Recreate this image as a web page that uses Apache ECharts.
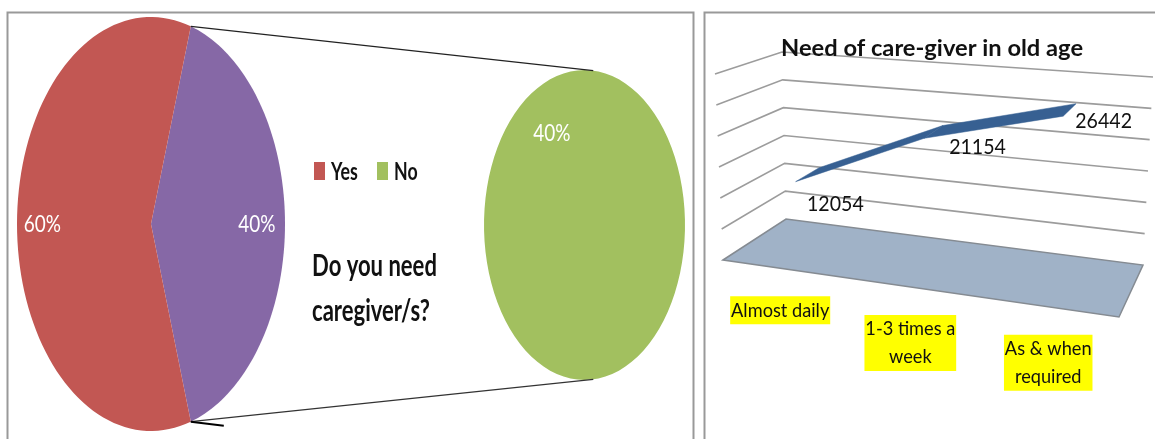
<!DOCTYPE html>
<html><head><meta charset="utf-8">
<style>html,body{margin:0;padding:0;background:#fff}#c{width:1155px;height:439px}</style>
<script src="https://cdn.jsdelivr.net/npm/echarts@6/dist/echarts.min.js"></script>
</head><body><div id="c"></div>
<script>
// ---- data ----
const pieNames = ['Yes', 'Other'];
const pieValues = [59.6, 40.4];
const breakoutName = 'No';
const breakoutValue = 40;
const lineCategories = [['Almost daily'], ['1-3 times a', 'week'], ['As & when', 'required']];
const lineValues = [12054, 21154, 26442];
const lineTicks = [5000, 10000, 15000, 20000, 25000, 30000];

// ---- layout ----
const FONT = 'Lato';
const leftPie = {left: 17, top: 17, width: 268, height: 414};
const rightPie = {left: 484, top: 70, width: 201, height: 310};
const backWall = {left: 786, top: 52, width: 357, height: 167};
const corners = {
  fl0: [723, 260], fl1: [715, 74], bl0: [786, 219], bl1: [782, 52],
  br0: [1143, 265], br1: [1153, 77], fr0: [1119, 317], fr1: [1128, 107]
};
const dataLabelOffsets = [[28, 29], [44, 15], [34, 11]];
const rad = d => d * Math.PI / 180;
const mix = (a, b, t) => [a[0] + (b[0] - a[0]) * t, a[1] + (b[1] - a[1]) * t];

function project(u, d, v) {
  const fl = mix(corners.fl0, corners.fl1, v), fr = mix(corners.fr0, corners.fr1, v);
  const bl = mix(corners.bl0, corners.bl1, v), br = mix(corners.br0, corners.br1, v);
  return mix(mix(fl, fr, u), mix(bl, br, u), d);
}
function norm(pt) {
  const u = (pt[0] - backWall.left) / backWall.width;
  const v = (backWall.top + backWall.height - pt[1]) / backWall.height;
  return [Math.pow(u, 1.08), v];
}
function arc(api, a0, a1) {
  const pts = [api.coord([0, 0])];
  for (let i = 0; i <= 90; i++) {
    const a = rad(a0 + (a1 - a0) * i / 90);
    pts.push(api.coord([Math.sin(a), Math.cos(a)]));
  }
  return pts;
}
const txt = (x, y, s, size, extra, sx) => ({type: 'text', x, y, scaleX: sx || 1, silent: true, style: Object.assign({
  text: s, fontSize: size, fontFamily: FONT, fill: '#111', align: 'center', verticalAlign: 'middle'}, extra || {})});

const total = pieValues[0] + pieValues[1];
const otherSpan = pieValues[1] / total * 360;
const otherStart = 90 - otherSpan / 2;

function sliceRender(a0, a1, label, lx, ly) {
  return function (params, api) {
    const p = api.coord([lx, ly]);
    return {type: 'group', children: [
      {type: 'polygon', shape: {points: arc(api, a0, a1)}, style: {fill: api.visual('color')}},
      txt(p[0], p[1], label, 24, {fill: '#fff'}, 0.79)
    ]};
  };
}
const hiddenAxis = (gridIndex) => ({type: 'value', gridIndex, min: -1, max: 1, show: false});
const legendText = (x, s) => ({type: 'text', x, y: 172, z: 5, scaleX: 0.74, style: {
  text: s, fontFamily: FONT, fontSize: 24, fontWeight: 'bold', fill: '#111', align: 'left', verticalAlign: 'middle'}});

const option = {
  animation: false,
  backgroundColor: '#fff',
  title: [{
    text: 'Need of care-giver in old age', left: 781, top: 36, padding: 0,
    textStyle: {fontFamily: FONT, fontSize: 23.7, fontWeight: 'bold', color: '#111'}
  }],
  legend: {
    left: 314, top: 162, padding: 0, itemWidth: 11, itemHeight: 18, itemGap: 52, icon: 'rect',
    data: ['Yes', 'No'], formatter: () => '',
    textStyle: {fontFamily: FONT, fontSize: 2}
  },
  grid: [
    Object.assign({}, leftPie), Object.assign({}, rightPie), Object.assign({}, backWall)
  ],
  xAxis: [hiddenAxis(0), hiddenAxis(1),
    {type: 'category', gridIndex: 2, show: false, data: lineCategories.map(c => c.join(' '))}],
  yAxis: [hiddenAxis(0), hiddenAxis(1),
    {type: 'value', gridIndex: 2, show: false, min: 0, max: 30000, interval: 5000}],
  graphic: [
    {type: 'rect', shape: {x: 7.5, y: 12.5, width: 686, height: 450}, style: {fill: 'none', stroke: '#999', lineWidth: 2}, z: 0},
    {type: 'rect', shape: {x: 704.5, y: 12.5, width: 480, height: 450}, style: {fill: 'none', stroke: '#999', lineWidth: 2}, z: 0},
    legendText(331, 'Yes'), legendText(394, 'No'),
    {type: 'text', x: 312, y: 289, z: 5, scaleX: 0.735, style: {
      text: 'Do you need\ncaregiver/s?', fontFamily: FONT, fontSize: 30, fontWeight: 'bold', lineHeight: 45,
      fill: '#111', align: 'left', verticalAlign: 'middle'}}
  ],
  series: [
    {name: 'Other', type: 'custom', xAxisIndex: 0, yAxisIndex: 0, data: [[0, pieValues[1]]],
      itemStyle: {color: '#8668A6'},
      renderItem: sliceRender(otherStart, otherStart + otherSpan, Math.round(pieValues[1]) + '%', 0.79, 0)},
    {name: pieNames[0], type: 'custom', xAxisIndex: 0, yAxisIndex: 0, data: [[0, pieValues[0]]],
      itemStyle: {color: '#C25753'},
      renderItem: sliceRender(otherStart + otherSpan, otherStart + 360, Math.round(pieValues[0]) + '%', -0.81, 0)},
    {name: breakoutName, type: 'custom', xAxisIndex: 1, yAxisIndex: 1, data: [[0, breakoutValue]],
      itemStyle: {color: '#A2C05F'},
      renderItem: sliceRender(0, 360, breakoutValue + '%', -0.325, 0.59)},
    {name: 'Connectors', type: 'custom', xAxisIndex: 0, yAxisIndex: 0, data: [[0, 0]], z: 4,
      renderItem: function (params, api) {
        const a = rad(otherStart), b = rad(otherStart + otherSpan);
        const s1 = api.coord([Math.sin(a), Math.cos(a)]), s2 = api.coord([Math.sin(b), Math.cos(b)]);
        const rx = rightPie.width / 2, ry = rightPie.height / 2;
        const cx = rightPie.left + rx, cy = rightPie.top + ry;
        const e1 = [cx + rx * Math.sin(rad(5)), cy - ry * Math.cos(rad(5))];
        const e2 = [cx + rx * Math.sin(rad(175)), cy - ry * Math.cos(rad(175))];
        const ln = (p, q, w, c) => ({type: 'line', shape: {x1: p[0], y1: p[1], x2: q[0], y2: q[1]}, style: {stroke: c, lineWidth: w}});
        return {type: 'group', children: [
          ln(s1, e1, 1.2, '#222'), ln(s2, e2, 1.2, '#333'),
          ln(s2, [s2[0] + 33, s2[1] + 4], 2, '#000')
        ]};
      }},
    {name: 'Floor', type: 'custom', xAxisIndex: 2, yAxisIndex: 2, data: [[0, 0]],
      renderItem: function () {
        return {type: 'polygon', shape: {points: [project(0, 0, 0), project(0, 1, 0), project(1, 1, 0), project(1, 0, 0)]},
          style: {fill: '#A0B2C7', stroke: '#858b92', lineWidth: 1.5}};
      }},
    {name: 'Gridlines', type: 'custom', xAxisIndex: 2, yAxisIndex: 2, data: lineTicks.map(t => [0, t]),
      renderItem: function (params, api) {
        const v = norm(api.coord([0, api.value(1)]))[1];
        return {type: 'polyline', shape: {points: [project(0, 0, v), project(0, 1, v), project(1, 1, v)]},
          style: {fill: 'none', stroke: '#9c9c9c', lineWidth: 1.6}};
      }},
    {name: 'Need of care-giver', type: 'custom', xAxisIndex: 2, yAxisIndex: 2, z: 3,
      data: lineValues.map((v, i) => [i, v]),
      itemStyle: {color: '#376092'},
      renderItem: function (params, api) {
        const i = params.dataIndex;
        const at = (k, d) => {
          const n = norm(api.coord([k, lineValues[k]]));
          return project(n[0], d, n[1]);
        };
        const children = [];
        if (i < lineValues.length - 1) {
          children.push({type: 'polygon', shape: {points: [at(i, 0.3), at(i + 1, 0.3), at(i + 1, 0.7), at(i, 0.7)]},
            style: {fill: api.visual('color'), stroke: api.visual('color'), lineWidth: 0.5}});
        }
        const c = at(i, 0.5), o = dataLabelOffsets[i];
        children.push(txt(c[0] + o[0], c[1] + o[1], String(lineValues[i]), 22, null, 0.89));
        return {type: 'group', children};
      }},
    {name: 'Categories', type: 'custom', xAxisIndex: 2, yAxisIndex: 2, z: 3,
      data: lineCategories.map((c, i) => [i, 0]),
      renderItem: function (params, api) {
        const n = norm(api.coord([params.dataIndex, 0]));
        const p = project(n[0], 0, 0);
        return txt(p[0], p[1] + 28, lineCategories[params.dataIndex].join('\n'), 20, {
          verticalAlign: 'top', backgroundColor: '#FFFF00', lineHeight: 28, padding: [0, 1]
        }, 0.91);
      }}
  ]
};
const chart = echarts.init(document.getElementById('c'), null, {renderer: 'canvas'});
chart.setOption(option);
</script></body></html>
